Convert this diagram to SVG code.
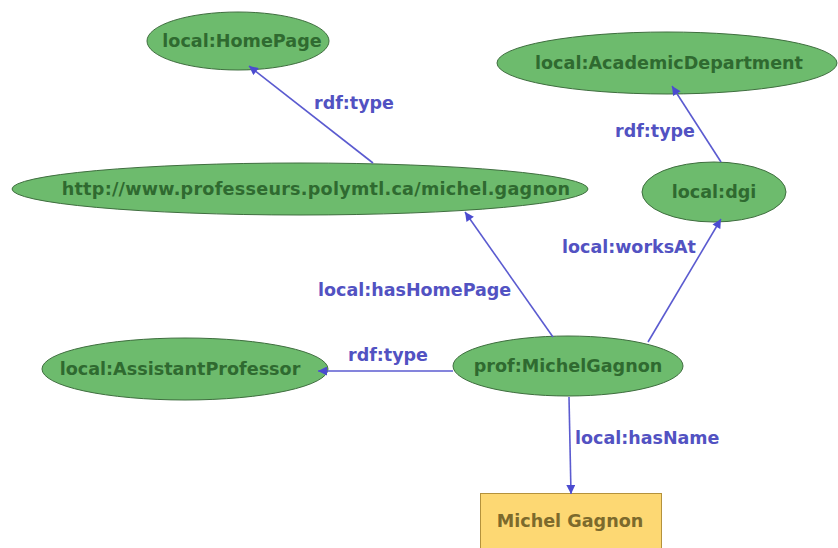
<svg xmlns="http://www.w3.org/2000/svg" width="838" height="548" viewBox="0 0 838 548">
<style>
.n ellipse{fill:#6dbb6d;stroke:#3f6e3f;stroke-width:1}
.n text{font-family:"DejaVu Sans",sans-serif;font-weight:bold;font-size:17.6px;fill:#2f6a30;text-anchor:middle}
.lit rect{fill:#fdd873;stroke:#b4923c;stroke-width:1}
.lit text{font-family:"DejaVu Sans",sans-serif;font-weight:bold;font-size:17.6px;fill:#7c6a2c;text-anchor:middle}
.e line{stroke:#5b5bd0;stroke-width:1.6;fill:none}
.e text{font-family:"DejaVu Sans",sans-serif;font-weight:bold;font-size:17.5px;fill:#5252c2}
</style>
<defs>
<marker id="ah" viewBox="0 0 10 10" refX="10" refY="5" markerWidth="10" markerHeight="9" markerUnits="userSpaceOnUse" orient="auto">
<path d="M0,0 L10,5 L0,10 z" fill="#4b4bd0"/>
</marker>
</defs>
<rect width="838" height="548" fill="#ffffff"/>
<g id="homepage" class="n"><ellipse cx="238" cy="41" rx="91" ry="29"/><text x="242" y="47">local:HomePage</text></g>
<g id="url" class="n"><ellipse cx="300" cy="189" rx="288" ry="26"/><text x="316" y="195" letter-spacing="0.25">http://www.professeurs.polymtl.ca/michel.gagnon</text></g>
<g id="academic" class="n"><ellipse cx="667" cy="63" rx="170" ry="31"/><text x="669" y="69">local:AcademicDepartment</text></g>
<g id="dgi" class="n"><ellipse cx="714" cy="192" rx="72" ry="30"/><text x="714" y="198">local:dgi</text></g>
<g id="assistant" class="n"><ellipse cx="185" cy="369" rx="143" ry="31"/><text x="180" y="375">local:AssistantProfessor</text></g>
<g id="prof" class="n"><ellipse cx="568" cy="366" rx="115" ry="30"/><text x="568" y="372">prof:MichelGagnon</text></g>
<g id="name" class="lit"><rect x="480.5" y="493.5" width="181" height="60"/><text x="570" y="527">Michel Gagnon</text></g>
<g id="edges" class="e">
<line x1="373" y1="163" x2="249" y2="66" marker-end="url(#ah)"/>
<text x="314" y="109">rdf:type</text>
<line x1="721" y1="162" x2="672" y2="86" marker-end="url(#ah)"/>
<text x="615" y="137">rdf:type</text>
<line x1="553" y1="337" x2="465" y2="212" marker-end="url(#ah)"/>
<text x="318" y="296">local:hasHomePage</text>
<line x1="648" y1="342" x2="721" y2="219" marker-end="url(#ah)"/>
<text x="562" y="253">local:worksAt</text>
<line x1="453" y1="371" x2="318" y2="371" marker-end="url(#ah)"/>
<text x="348" y="361">rdf:type</text>
<line x1="569" y1="397" x2="571" y2="494" marker-end="url(#ah)"/>
<text x="575" y="444">local:hasName</text>
</g>
</svg>
